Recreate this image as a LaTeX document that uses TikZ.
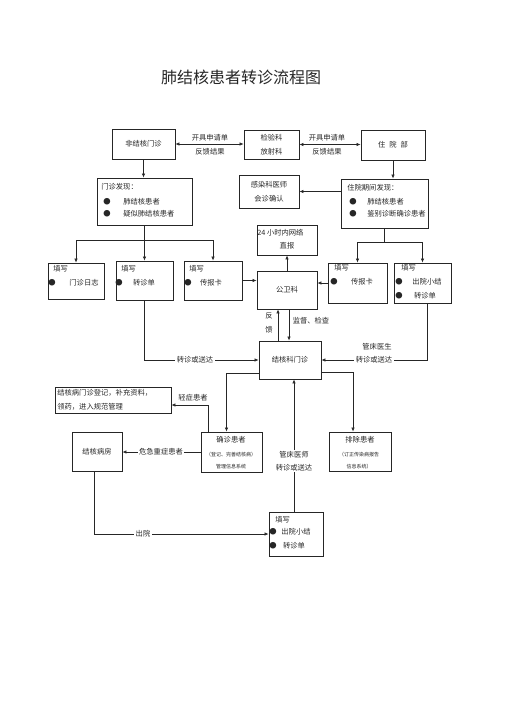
\documentclass[tikz,border=0pt]{standalone}
\usepackage{fontspec}
\usepackage{tikz}
\usetikzlibrary{arrows.meta,positioning}
\newfontfamily\cjk{Noto Sans CJK SC}
\definecolor{ink}{HTML}{262626}

\begin{document}
\begin{tikzpicture}[x=1pt,y=-1pt,font=\cjk\fontsize{7.3}{9}\selectfont,line width=.6pt,draw=ink,
  >={Latex[length=4pt,width=3.4pt]},
  box/.style={draw=ink,line width=.8pt,inner sep=0pt,text=ink},
  lbl/.style={inner sep=1pt,text=ink},
  gap/.style={fill=white,inner sep=1.5pt,text=ink},
  tiny/.style={inner sep=0pt,text=ink,font=\cjk\fontsize{5}{6}\selectfont}]
\useasboundingbox (0,0) rectangle (505,714);
\node[text=ink,font=\cjk\fontsize{16}{18}\selectfont] (title) at (241,77) {肺结核患者转诊流程图};
\node[box,minimum width=63,minimum height=30] (fjh) at (143.5,144) {非结核门诊};
\node[box,minimum width=55,minimum height=29,align=center] (jyk) at (271.5,144.5) {检验科\\[5pt]放射科};
\node[box,minimum width=64,minimum height=30] (zyb) at (393,145) {住\hspace{4pt}院\hspace{4pt}部};
\node[box,minimum width=95,minimum height=47] (mzfx) at (144.5,201.5) {};
\node[box,minimum width=60,minimum height=33,align=center] (grk) at (269,191.5) {感染科医师\\[5pt]会诊确认};
\node[box,minimum width=87,minimum height=49] (zyfx) at (384.5,203.5) {};
\node[box,minimum width=60,minimum height=30] (wlzb) at (287,240) {};
\node[box,minimum width=60,minimum height=38] (gwk) at (287,290) {公卫科};
\node[box,minimum width=62,minimum height=38] (jhk) at (290,360) {结核科门诊};
\node[box,minimum width=116,minimum height=26] (djbox) at (113,400) {};
\node[box,minimum width=50,minimum height=39] (bf) at (97,451.5) {结核病房};
\node[box,minimum width=61,minimum height=40] (qz) at (231.5,452) {};
\node[box,minimum width=62,minimum height=39] (pc) at (360,451.5) {};
\foreach \n/\x/\y/\w/\h/\tx/\ty in {tx1/76/281/56/36/52/269,tx2/144.5/280.5/57/39/120/269,
  tx3/213/280.5/58/39/188/269,tx4/357.5/283/59/40/333/268,tx5/422.5/283/57/40/400/268,
  tx6/296/534/54/44/274/520}{
  \node[box,minimum width=\w,minimum height=\h] (\n) at (\x,\y) {};
  \node[lbl,anchor=west] (\n-head) at (\tx,\ty) {填写};}
\foreach \x/\y [count=\i] in {107/202,107/214,353/202,353/214,52/283,119/283,188/283,
  334/282,399/282,399/296,273/532,273/546}
  \node[lbl,inner sep=0pt] (dot\i) at (\x,\y) {●};
\node[lbl,anchor=west] (mzfx-a) at (100,187) {门诊发现：};
\node[lbl,anchor=west] (mzfx-b) at (122,202) {肺结核患者};
\node[lbl,anchor=west] (mzfx-c) at (122,214) {疑似肺结核患者};
\node[lbl,anchor=west] (zyfx-a) at (346,188) {住院期间发现：};
\node[lbl,anchor=west] (zyfx-b) at (366,202) {肺结核患者};
\node[lbl,anchor=west] (zyfx-c) at (366,214) {鉴别诊断确诊患者};
\node[lbl,anchor=west] (wlzb-a) at (256,233) {24 小时内网络};
\node[lbl] (wlzb-b) at (287,246) {直报};
\node[lbl] (tx1-a) at (84,283) {门诊日志};
\node[lbl] (tx2-a) at (144,283) {转诊单};
\node[lbl] (tx3-a) at (211,283) {传报卡};
\node[lbl] (tx4-a) at (362,282) {传报卡};
\node[lbl] (tx5-a) at (427,282) {出院小结};
\node[lbl] (tx5-b) at (425,296) {转诊单};
\node[lbl] (tx6-a) at (296,532) {出院小结};
\node[lbl] (tx6-b) at (294,546) {转诊单};
\node[lbl,anchor=west] (djbox-a) at (56,393) {结核病门诊登记，补充资料，};
\node[lbl,anchor=west] (djbox-b) at (56,407) {领药，进入规范管理};
\node[lbl] (qz-a) at (231,440) {确诊患者};
\node[tiny] (qz-b) at (231,455) {（登记、完善结核病）};
\node[tiny] (qz-c) at (231,467) {管理信息系统};
\node[lbl] (pc-a) at (360,440) {排除患者};
\node[tiny] (pc-b) at (359,455) {（订正传染病报告};
\node[tiny] (pc-c) at (359,467) {信息系统）};

\draw[<->] (fjh.east) -- (fjh.east -| jyk.west);
\draw[<->] (jyk.east) -- (jyk.east -| zyb.west);
\node[lbl] (sq1) at (210,138) {开具申请单};
\node[lbl] (fk1) at (210,152) {反馈结果};
\node[lbl] (sq2) at (327,138) {开具申请单};
\node[lbl] (fk2) at (327,152) {反馈结果};
\draw[->] (fjh.south) -- (fjh.south |- mzfx.north);
\draw[->] (zyb.south) -- (zyb.south |- zyfx.north);
\draw[->] (zyfx.west |- grk.east) -- (grk.east);
\path (mzfx.south) ++(0,15) coordinate (lsplit);
\draw (mzfx.south) -- (lsplit);
\draw[->] (lsplit) -| (tx1.north);
\draw[->] (lsplit) -- (lsplit |- tx2.north);
\draw[->] (lsplit) -| (tx3.north);
\draw[->] (tx3.east) -- (tx3.east -| gwk.west);
\draw[->] (tx4.west) -- (tx4.west -| gwk.east);
\draw[->] (gwk.north) -- (wlzb.south);
\path (zyfx.south) ++(0,14) coordinate (rsplit);
\draw (zyfx.south) -- (rsplit);
\draw[->] (rsplit) -| (tx4.north);
\draw[->] (rsplit) -| (tx5.north);
\path ([xshift=-9pt]gwk.south) coordinate (fbk);
\path ([xshift=2pt]gwk.south) coordinate (chk);
\draw[->] (fbk |- jhk.north) -- (fbk);
\draw[->] (chk) -- (chk |- jhk.north);
\node[lbl] (fbk-a) at (269,316) {反};
\node[lbl] (fbk-b) at (269,330) {馈};
\node[lbl] (chk-a) at (311,321) {监督、检查};
\draw[->] (tx2.south) |- (jhk.west);
\draw[->] ([xshift=5pt]tx5.south) |- (jhk.east);
\node[gap] (zs1) at (195,360) {转诊或送达};
\node[lbl] (gc1) at (377,347) {管床医生};
\node[gap] (zs2) at (374,360) {转诊或送达};
\draw[->] ([yshift=-13pt]jhk.west) -| ([xshift=-5pt]qz.north);
\draw[->] ([yshift=-12pt]jhk.east) -| ([xshift=-7pt]pc.north);
\path ([xshift=-2pt]tx6.north) coordinate (gcs);
\draw[->] (gcs) -- (gcs |- jhk.south);
\node[gap,align=center] (gc2) at (294,461) {管床医师\\[4pt]转诊或送达};
\path ([xshift=-23pt]qz.north) coordinate (qzs);
\draw[->] (qzs) |- ([yshift=-5pt]djbox.east);
\node[lbl] (qzh) at (193,398) {轻症患者};
\draw[->] (qz.west) -- (qz.west -| bf.east);
\node[gap] (wz) at (161,452) {危急重症患者};
\draw[->] ([xshift=-3pt]bf.south) |- (tx6.west);
\node[gap] (cy) at (143,534) {出院};
\end{tikzpicture}
\end{document}
